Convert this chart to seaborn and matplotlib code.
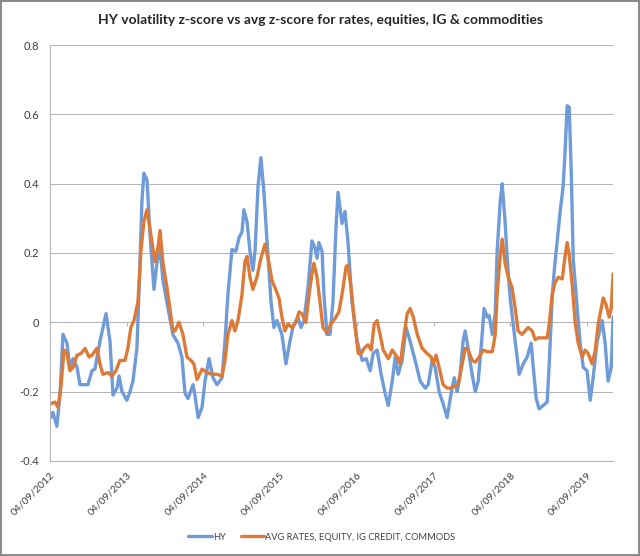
import matplotlib
matplotlib.use("Agg")
import matplotlib.pyplot as plt
import seaborn as sns
import pandas as pd

title = "HY volatility z-score vs avg z-score for rates, equities, IG & commodities"
hy_label = "HY"
avg_label = "AVG RATES, EQUITY, IG CREDIT, COMMODS"

hy_dates = [
    "2012-09-09", "2012-09-18", "2012-10-07", "2012-10-22", "2012-11-05", "2012-11-24", "2012-12-08", "2012-12-23",
    "2013-01-11", "2013-01-25", "2013-02-18", "2013-03-04", "2013-03-23", "2013-04-06", "2013-04-30", "2013-05-29",
    "2013-06-17", "2013-07-01", "2013-07-20", "2013-07-30", "2013-08-13", "2013-09-05", "2013-09-20", "2013-10-04",
    "2013-10-23", "2013-11-06", "2013-11-16", "2013-11-25", "2013-12-10", "2013-12-24", "2014-01-12", "2014-01-26",
    "2014-02-10", "2014-02-24", "2014-03-20", "2014-04-12", "2014-05-06", "2014-05-25", "2014-06-09", "2014-06-23",
    "2014-07-17", "2014-07-26", "2014-08-10", "2014-08-29", "2014-09-12", "2014-10-01", "2014-10-20", "2014-11-08",
    "2014-12-02", "2014-12-16", "2014-12-30", "2015-01-18", "2015-02-06", "2015-02-21", "2015-03-07", "2015-03-16",
    "2015-03-31", "2015-04-14", "2015-04-28", "2015-05-08", "2015-05-22", "2015-06-05", "2015-06-20", "2015-07-04",
    "2015-07-23", "2015-08-06", "2015-08-20", "2015-09-13", "2015-10-02", "2015-10-21", "2015-11-04", "2015-11-28",
    "2015-12-13", "2015-12-27", "2016-01-15", "2016-02-03", "2016-02-17", "2016-02-27", "2016-03-07", "2016-03-22",
    "2016-03-31", "2016-04-14", "2016-04-29", "2016-05-13", "2016-05-27", "2016-06-06", "2016-06-25", "2016-07-09",
    "2016-07-23", "2016-08-11", "2016-09-05", "2016-09-29", "2016-10-18", "2016-11-06", "2016-11-20", "2016-12-09",
    "2016-12-28", "2017-01-16", "2017-01-31", "2017-02-19", "2017-03-05", "2017-03-19", "2017-04-07", "2017-04-26",
    "2017-05-15", "2017-06-08", "2017-07-02", "2017-07-26", "2017-08-09", "2017-08-28", "2017-09-11", "2017-09-30",
    "2017-10-19", "2017-11-07", "2017-11-26", "2017-12-11", "2017-12-25", "2018-01-08", "2018-01-22", "2018-02-01",
    "2018-02-15", "2018-03-06", "2018-03-21", "2018-04-04", "2018-04-23", "2018-05-02", "2018-05-17", "2018-05-26",
    "2018-06-10", "2018-06-24", "2018-07-03", "2018-07-18", "2018-07-27", "2018-08-10", "2018-08-20", "2018-09-03",
    "2018-09-27", "2018-10-16", "2018-11-04", "2018-11-23", "2018-12-12", "2018-12-22", "2019-01-05", "2019-01-19",
    "2019-02-07", "2019-02-26", "2019-03-08", "2019-03-22", "2019-04-01", "2019-04-15", "2019-04-29", "2019-05-13",
    "2019-05-23", "2019-06-01", "2019-06-11", "2019-06-21", "2019-06-30", "2019-07-19", "2019-08-02", "2019-08-17",
    "2019-09-04", "2019-09-19", "2019-10-03", "2019-10-22", "2019-11-15", "2019-11-29", "2019-12-13", "2019-12-28",
    "2020-01-06",
]
hy_values = [
    -0.275, -0.26, -0.30, -0.21, -0.035, -0.06, -0.13, -0.105,
    -0.13, -0.18, -0.18, -0.18, -0.14, -0.135, -0.055, 0.025,
    -0.055, -0.21, -0.19, -0.155, -0.20, -0.225, -0.20, -0.17,
    -0.075, 0.16, 0.35, 0.43, 0.41, 0.255, 0.095, 0.17,
    0.215, 0.12, 0.04, -0.035, -0.06, -0.10, -0.205, -0.22,
    -0.18, -0.21, -0.275, -0.245, -0.17, -0.105, -0.16, -0.18,
    -0.16, -0.055, 0.08, 0.21, 0.205, 0.245, 0.26, 0.325,
    0.29, 0.205, 0.15, 0.205, 0.39, 0.475, 0.37, 0.235,
    0.06, -0.015, 0.005, -0.035, -0.12, -0.055, -0.015, 0.015,
    -0.015, 0.005, 0.10, 0.235, 0.215, 0.185, 0.23, 0.205,
    0.08, -0.035, -0.035, 0.06, 0.27, 0.375, 0.285, 0.32,
    0.235, 0.06, -0.055, -0.11, -0.105, -0.14, -0.09, -0.08,
    -0.15, -0.205, -0.24, -0.17, -0.10, -0.15, -0.11, -0.015,
    -0.055, -0.11, -0.17, -0.19, -0.18, -0.11, -0.13, -0.20,
    -0.235, -0.275, -0.205, -0.16, -0.20, -0.15, -0.055, -0.025,
    -0.075, -0.15, -0.20, -0.17, -0.035, 0.04, 0.015, 0.02,
    -0.035, 0.025, 0.205, 0.35, 0.40, 0.29, 0.185, 0.07,
    -0.055, -0.15, -0.12, -0.10, -0.06, -0.13, -0.22, -0.25,
    -0.24, -0.23, -0.12, 0.07, 0.15, 0.235, 0.32, 0.39,
    0.50, 0.625, 0.62, 0.43, 0.185, 0.04, -0.06, -0.13,
    -0.14, -0.225, -0.16, -0.055, 0.005, -0.06, -0.17, -0.13,
    0.015,
]

avg_dates = [
    "2012-09-09", "2012-09-28", "2012-10-12", "2012-10-26", "2012-11-10", "2012-11-24", "2012-12-08", "2012-12-23",
    "2013-01-11", "2013-01-30", "2013-02-18", "2013-03-09", "2013-03-23", "2013-04-16", "2013-04-30", "2013-05-14",
    "2013-06-07", "2013-06-26", "2013-07-15", "2013-08-03", "2013-08-27", "2013-09-10", "2013-09-24", "2013-10-09",
    "2013-10-28", "2013-11-11", "2013-11-25", "2013-12-10", "2013-12-24", "2014-01-02", "2014-01-17", "2014-01-31",
    "2014-02-10", "2014-02-24", "2014-03-15", "2014-03-29", "2014-04-12", "2014-04-22", "2014-05-11", "2014-05-30",
    "2014-06-18", "2014-07-07", "2014-07-21", "2014-08-05", "2014-08-29", "2014-09-21", "2014-10-15", "2014-11-08",
    "2014-12-02", "2014-12-16", "2014-12-30", "2015-01-18", "2015-02-01", "2015-02-16", "2015-03-07", "2015-03-21",
    "2015-03-31", "2015-04-14", "2015-04-28", "2015-05-17", "2015-06-05", "2015-06-24", "2015-07-09", "2015-07-28",
    "2015-08-11", "2015-08-30", "2015-09-13", "2015-09-27", "2015-10-12", "2015-10-31", "2015-11-19", "2015-12-03",
    "2015-12-17", "2016-01-05", "2016-01-20", "2016-02-03", "2016-02-12", "2016-02-27", "2016-03-12", "2016-03-26",
    "2016-04-14", "2016-05-03", "2016-05-22", "2016-06-10", "2016-06-25", "2016-07-14", "2016-07-23", "2016-08-07",
    "2016-08-21", "2016-09-10", "2016-09-24", "2016-10-08", "2016-10-27", "2016-11-11", "2016-11-25", "2016-12-09",
    "2016-12-23", "2017-01-07", "2017-01-31", "2017-02-19", "2017-03-14", "2017-03-29", "2017-04-12", "2017-05-01",
    "2017-05-15", "2017-05-30", "2017-06-18", "2017-07-11", "2017-08-04", "2017-08-23", "2017-09-02", "2017-09-16",
    "2017-09-30", "2017-10-19", "2017-11-07", "2017-11-22", "2017-12-11", "2017-12-30", "2018-01-18", "2018-02-01",
    "2018-02-15", "2018-03-06", "2018-03-21", "2018-04-09", "2018-04-28", "2018-05-17", "2018-06-10", "2018-06-24",
    "2018-07-03", "2018-07-18", "2018-07-27", "2018-08-10", "2018-08-25", "2018-09-12", "2018-09-27", "2018-10-11",
    "2018-10-30", "2018-11-13", "2018-11-28", "2018-12-17", "2018-12-31", "2019-01-14", "2019-02-02", "2019-02-26",
    "2019-03-08", "2019-03-22", "2019-04-05", "2019-04-20", "2019-05-09", "2019-05-18", "2019-06-01", "2019-06-11",
    "2019-06-25", "2019-07-10", "2019-07-24", "2019-08-12", "2019-08-26", "2019-09-09", "2019-09-28", "2019-10-13",
    "2019-10-27", "2019-11-20", "2019-12-04", "2019-12-18", "2019-12-28", "2020-01-06",
]
avg_values = [
    -0.235, -0.23, -0.245, -0.19, -0.08, -0.09, -0.14, -0.13,
    -0.095, -0.09, -0.075, -0.10, -0.095, -0.075, -0.12, -0.15,
    -0.145, -0.155, -0.14, -0.11, -0.11, -0.075, -0.015, 0.005,
    0.06, 0.205, 0.29, 0.325, 0.27, 0.235, 0.175, 0.215,
    0.265, 0.17, 0.10, 0.04, -0.025, -0.025, 0.0, -0.035,
    -0.10, -0.11, -0.12, -0.165, -0.135, -0.145, -0.15, -0.15,
    -0.155, -0.11, -0.035, 0.005, -0.025, 0.005, 0.08, 0.175,
    0.19, 0.13, 0.095, 0.13, 0.185, 0.225, 0.185, 0.12,
    0.10, 0.07, 0.015, -0.025, -0.005, -0.015, 0.0, 0.03,
    0.025, 0.0, 0.08, 0.14, 0.17, 0.13, 0.06, -0.015,
    -0.03, -0.005, 0.01, 0.03, 0.08, 0.16, 0.165, 0.10,
    0.015, -0.09, -0.09, -0.075, -0.065, -0.08, -0.005, 0.005,
    -0.035, -0.08, -0.105, -0.08, -0.10, -0.12, -0.055, 0.025,
    0.04, 0.015, -0.035, -0.075, -0.09, -0.10, -0.12, -0.095,
    -0.13, -0.18, -0.19, -0.19, -0.185, -0.18, -0.12, -0.075,
    -0.08, -0.11, -0.115, -0.10, -0.08, -0.085, -0.085, -0.035,
    0.08, 0.195, 0.24, 0.17, 0.13, 0.10, 0.04, -0.025,
    -0.035, -0.025, -0.015, -0.025, -0.05, -0.045, -0.045, -0.045,
    -0.005, 0.08, 0.115, 0.13, 0.125, 0.17, 0.23, 0.195,
    0.11, -0.005, -0.06, -0.10, -0.08, -0.09, -0.12, -0.08,
    -0.005, 0.07, 0.05, 0.015, 0.04, 0.14,
]

tick_dates = ["2012-09-04", "2013-09-04", "2014-09-04", "2015-09-04",
              "2016-09-04", "2017-09-04", "2018-09-04", "2019-09-04"]
tick_labels = ["04/09/2012", "04/09/2013", "04/09/2014", "04/09/2015",
               "04/09/2016", "04/09/2017", "04/09/2018", "04/09/2019"]
y_ticks = [-0.4, -0.2, 0.0, 0.2, 0.4, 0.6, 0.8]
y_labels = ["-0.4", "-0.2", "0", "0.2", "0.4", "0.6", "0.8"]

blue = "#6f9bd8"
orange = "#dd7a38"
grid_color = "#b4b4b4"
text_color = "#404040"

sns.set_style("white")
plt.rcParams["font.family"] = ["Lato", "DejaVu Sans"]

df = pd.concat([
    pd.DataFrame({"date": pd.to_datetime(hy_dates), "value": hy_values, "series": hy_label}),
    pd.DataFrame({"date": pd.to_datetime(avg_dates), "value": avg_values, "series": avg_label}),
], ignore_index=True)

fig = plt.figure(figsize=(6.4, 5.56), dpi=100)
ax = fig.add_axes([0.078, 0.171, 0.880, 0.748])

sns.lineplot(data=df, x="date", y="value", hue="series", palette=[blue, orange],
             linewidth=2.4, ax=ax)

ax.set_ylim(-0.4, 0.8)
ax.set_yticks(y_ticks)
ax.set_yticklabels(y_labels, fontsize=8, color=text_color)
ax.set_xlim(pd.Timestamp("2012-09-04"), pd.Timestamp("2020-01-06"))
ticks = pd.to_datetime(tick_dates)
ax.set_xticks(ticks)
ax.set_xticklabels(tick_labels, rotation=45, ha="right", rotation_mode="anchor",
                   fontsize=7.5, color=text_color)
ax.tick_params(axis="x", length=0, pad=7)
ax.tick_params(axis="y", length=0, pad=8)
ax.set_xlabel("")
ax.set_ylabel("")
ax.grid(axis="y", color=grid_color, linewidth=0.75)
ax.set_axisbelow(True)
for side in ["top", "right"]:
    ax.spines[side].set_visible(False)
for side in ["left", "bottom"]:
    ax.spines[side].set_color(grid_color)
    ax.spines[side].set_linewidth(0.75)

# small tick marks on the zero line, like the excel category axis
zero_axis = ax.secondary_xaxis(1 / 3)
zero_axis.set_xticks(ticks)
zero_axis.set_xticklabels([])
zero_axis.tick_params(length=3, color=grid_color, width=0.75)
zero_axis.spines["bottom"].set_color(grid_color)
zero_axis.spines["bottom"].set_linewidth(0.75)

handles, labels = ax.get_legend_handles_labels()
ax.get_legend().remove()
fig.legend(handles, labels, loc="center", bbox_to_anchor=(0.503, 0.034), ncol=2,
           frameon=False, fontsize=6.7, handlelength=2.5, handletextpad=0.15,
           columnspacing=1.6, labelcolor=text_color)

fig.text(0.5, 1 - 20 / 556, title, ha="center", va="center",
         fontsize=10, fontweight="bold", color="#262626")

fig.patch.set_edgecolor("#8c8c8c")
fig.patch.set_linewidth(1.5)
fig.savefig("out.png", dpi=100)
